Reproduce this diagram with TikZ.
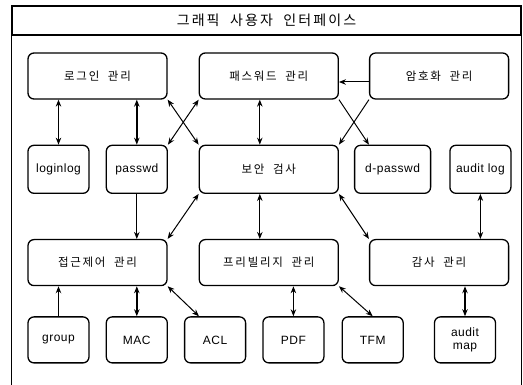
\documentclass[tikz,border=0pt]{standalone}
\usepackage{fontspec}
\setmainfont{Liberation Sans}[LetterSpace=4]
\newfontfamily\kr{Noto Sans CJK KR}[LetterSpace=15,WordSpace=2]
\usetikzlibrary{positioning, arrows.meta}

\begin{document}
\begin{tikzpicture}[
    x=1pt, y=1pt,
    node distance=16pt,
    mgr/.style={draw=black, line width=1.3pt, rounded corners=6pt, minimum width=139pt, minimum height=46pt, inner sep=0pt, align=center, font=\kr\fontsize{11.5}{14}\selectfont},
    file/.style={draw=black, line width=1.3pt, rounded corners=6pt, minimum width=61pt, minimum height=46pt, inner sep=0pt, align=center, font=\fontsize{12}{13}\selectfont},
    tall/.style={minimum height=48pt},
    arrow/.style={-{Stealth[length=7pt,width=5.5pt]}, line width=1pt},
    biarrow/.style={{Stealth[length=7pt,width=5.5pt]}-{Stealth[length=7pt,width=5.5pt]}, line width=1pt},
]
    \useasboundingbox (0,0) rectangle (523,-385);

    % Frame
    \node[draw=black, line width=1.2pt, minimum width=509pt, minimum height=29pt, inner sep=0pt, font=\kr\fontsize{14}{16}\selectfont] (gui) at (266.5,-20.5) {그래픽 사용자 인터페이스};
    \draw[line width=1.2pt] (gui.south west) -- ++(0,-360);
    \draw[line width=1.2pt] (gui.south east) -- ++(0,-360);

    % Row 1
    \node[mgr] (login) at (97.5,-76) {로그인 관리};
    \node[mgr, right=31pt of login] (pwmgr) {패스워드 관리};
    \node[mgr, right=30pt of pwmgr] (cryptmgr) {암호화 관리};

    % Row 2
    \node[file, tall, below right=45pt and 0pt of login.south west] (loginlog) {loginlog};
    \node[file, tall, right=of loginlog] (passwd) {passwd};
    \node[mgr, tall, below=45pt of pwmgr] (seccheck) {보안 검사};
    \node[file, tall, minimum width=76pt, right=15pt of seccheck] (dpasswd) {d-passwd};
    \node[file, tall, right=18pt of dpasswd] (auditlog) {audit log};

    % Row 3
    \node[mgr, below=45pt of seccheck] (privmgr) {프리빌리지 관리};
    \node[mgr, left=31pt of privmgr] (acmgr) {접근제어 관리};
    \node[mgr, right=30pt of privmgr] (auditmgr) {감사 관리};

    % Row 4
    \node[file, below right=30pt and 0pt of acmgr.south west] (group) {group};
    \node[file, right=of group] (mac) {MAC};
    \node[file, right=of mac] (acl) {ACL};
    \node[file, right=of acl] (pdf) {PDF};
    \node[file, right=17pt of pdf] (tfm) {TFM};
    \node[file, right=30pt of tfm] (auditmap) {audit\\map};

    % Connections
    \draw[biarrow] (loginlog.north) -- (loginlog.north |- login.south);
    \draw[biarrow, line width=1.5pt] (passwd.north) -- (passwd.north |- login.south);
    \draw[biarrow] (login.south east) -- (seccheck.north west);
    \draw[biarrow] (passwd.north east) -- (pwmgr.south west);
    \draw[biarrow] ([xshift=-9pt]pwmgr.south) -- ([xshift=-9pt]seccheck.north);
    \draw[arrow] ([yshift=-6pt]cryptmgr.west) -- ([yshift=-6pt]pwmgr.east);
    \draw[arrow] (cryptmgr.south west) -- (seccheck.north east);
    \draw[arrow] (pwmgr.south east) -- ([xshift=15pt]dpasswd.north west);

    \draw[arrow] (passwd.south) -- (passwd.south |- acmgr.north);
    \draw[biarrow] (seccheck.south west) -- (acmgr.north east);
    \draw[biarrow] ([xshift=-9pt]seccheck.south) -- ([xshift=-9pt]privmgr.north);
    \draw[biarrow] (seccheck.south east) -- (auditmgr.north west);
    \draw[biarrow] (auditlog.south) -- (auditlog.south |- auditmgr.north);

    \draw[arrow] (group.north) -- (group.north |- acmgr.south);
    \draw[biarrow, line width=1.5pt] (mac.north) -- (mac.north |- acmgr.south);
    \draw[biarrow] (acmgr.south east) -- ([xshift=15pt]acl.north west);
    \draw[biarrow] (pdf.north) -- (pdf.north |- privmgr.south);
    \draw[biarrow] (privmgr.south east) -- (tfm.north);
    \draw[biarrow, line width=1.5pt] (auditmap.north) -- (auditmap.north |- auditmgr.south);
\end{tikzpicture}
\end{document}
